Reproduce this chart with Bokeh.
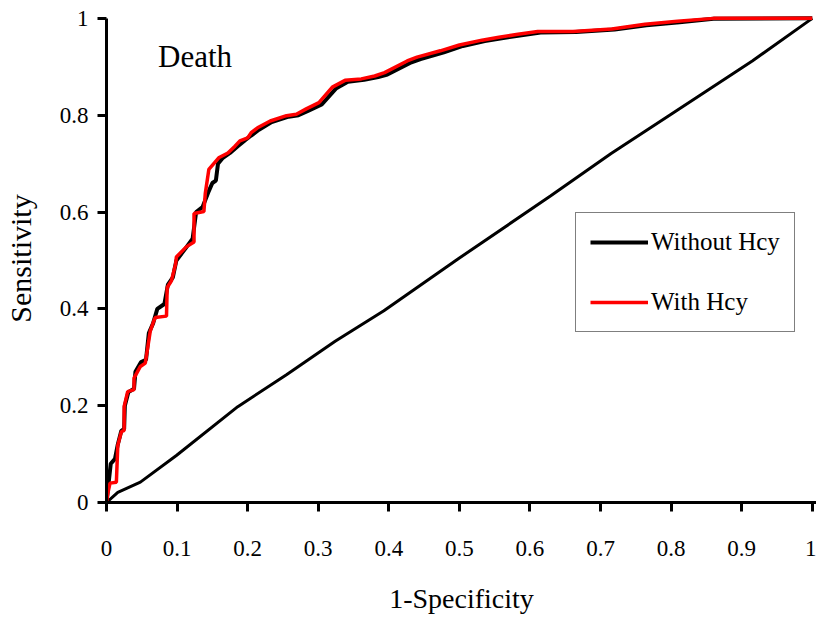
from bokeh.plotting import figure
from bokeh.models import Range1d, FixedTicker, Legend, LegendItem, Label
from bokeh.embed import file_html
from bokeh.resources import INLINE

# ---- data ----
x_ticks = [0, 0.1, 0.2, 0.3, 0.4, 0.5, 0.6, 0.7, 0.8, 0.9, 1]
x_tick_labels = ["0", "0.1", "0.2", "0.3", "0.4", "0.5", "0.6", "0.7", "0.8", "0.9", "1"]
y_ticks = [0, 0.2, 0.4, 0.6, 0.8, 1]
y_tick_labels = ["0", "0.2", "0.4", "0.6", "0.8", "1"]

without_fpr = [0, 0.003, 0.006, 0.012, 0.016, 0.021, 0.025, 0.026, 0.031, 0.039, 0.041, 0.049,
               0.056, 0.060, 0.066, 0.072, 0.082, 0.087, 0.094, 0.099, 0.112, 0.122, 0.127,
               0.136, 0.144, 0.150, 0.155, 0.158, 0.165, 0.175, 0.186, 0.196, 0.205, 0.216,
               0.234, 0.258, 0.272, 0.287, 0.305, 0.325, 0.342, 0.365, 0.385, 0.398, 0.430,
               0.445, 0.478, 0.505, 0.536, 0.560, 0.588, 0.615, 0.665, 0.720, 0.765, 0.812,
               0.860, 1.000]
without_tpr = [0, 0.040, 0.080, 0.090, 0.120, 0.148, 0.152, 0.200, 0.228, 0.235, 0.270, 0.290,
               0.295, 0.350, 0.370, 0.400, 0.410, 0.450, 0.465, 0.500, 0.525, 0.545, 0.600,
               0.610, 0.640, 0.660, 0.665, 0.700, 0.712, 0.722, 0.736, 0.748, 0.758, 0.770,
               0.786, 0.797, 0.800, 0.810, 0.822, 0.855, 0.869, 0.873, 0.879, 0.884, 0.908,
               0.916, 0.930, 0.943, 0.953, 0.959, 0.965, 0.971, 0.972, 0.977, 0.986, 0.992,
               0.999, 1.000]

with_fpr = [0, 0.002, 0.005, 0.014, 0.016, 0.021, 0.025, 0.025, 0.030, 0.039, 0.039, 0.048,
            0.055, 0.062, 0.067, 0.069, 0.085, 0.086, 0.092, 0.098, 0.099, 0.113, 0.124,
            0.124, 0.138, 0.140, 0.145, 0.159, 0.172, 0.182, 0.189, 0.200, 0.205, 0.214,
            0.232, 0.255, 0.269, 0.283, 0.301, 0.320, 0.338, 0.361, 0.380, 0.394, 0.426,
            0.440, 0.473, 0.500, 0.532, 0.556, 0.583, 0.611, 0.661, 0.716, 0.763, 0.809,
            0.860, 1.000]
with_tpr = [0, 0.020, 0.040, 0.042, 0.118, 0.146, 0.149, 0.198, 0.229, 0.233, 0.257, 0.281,
            0.288, 0.354, 0.375, 0.382, 0.385, 0.444, 0.458, 0.493, 0.507, 0.528, 0.538,
            0.597, 0.601, 0.639, 0.688, 0.712, 0.722, 0.736, 0.747, 0.753, 0.764, 0.774,
            0.788, 0.799, 0.802, 0.813, 0.826, 0.858, 0.872, 0.875, 0.881, 0.888, 0.912,
            0.920, 0.933, 0.945, 0.955, 0.961, 0.967, 0.973, 0.973, 0.978, 0.988, 0.994,
            1.000, 1.000]

ref_x = [0, 0.016, 0.048, 0.099, 0.186, 0.255, 0.324, 0.393, 0.500, 0.629, 0.715, 0.800, 0.915, 1.0]
ref_y = [0, 0.021, 0.042, 0.097, 0.198, 0.264, 0.333, 0.396, 0.505, 0.633, 0.721, 0.802, 0.912, 1.0]

series_names = ["Without Hcy", "With Hcy"]
panel_title = "Death"

FONT = "Liberation Serif"

p = figure(width=816, height=616, output_backend="svg", toolbar_location=None,
           x_range=Range1d(0, 1.006), y_range=Range1d(0, 1.008),
           min_border_left=105, min_border_right=0, min_border_top=14, min_border_bottom=114)
p.outline_line_color = None
p.xgrid.visible = False
p.ygrid.visible = False
p.background_fill_color = "white"
p.border_fill_color = "white"

for ax in (p.xaxis[0], p.yaxis[0]):
    ax.axis_line_width = 3
    ax.axis_line_color = "black"
    ax.major_tick_line_width = 3
    ax.major_tick_line_color = "black"
    ax.major_tick_in = 0
    ax.major_tick_out = 9
    ax.minor_tick_line_color = None
    ax.major_label_text_font = FONT
    ax.major_label_text_font_size = "23px"
    ax.major_label_text_color = "black"
    ax.axis_label_text_font = FONT
    ax.axis_label_text_font_style = "normal"
    ax.axis_label_text_color = "black"

p.xaxis[0].ticker = FixedTicker(ticks=x_ticks)
p.xaxis[0].major_label_overrides = dict(zip(x_ticks, x_tick_labels))
p.xaxis[0].major_label_standoff = 29
p.xaxis[0].axis_label = "1-Specificity"
p.xaxis[0].axis_label_text_font_size = "28px"
p.xaxis[0].axis_label_standoff = 24

p.yaxis[0].ticker = FixedTicker(ticks=y_ticks)
p.yaxis[0].major_label_overrides = dict(zip(y_ticks, y_tick_labels))
p.yaxis[0].major_label_standoff = 9
p.yaxis[0].bounds = (0, 1)
p.yaxis[0].axis_label = "Sensitivity"
p.yaxis[0].axis_label_text_font_size = "30px"
p.yaxis[0].axis_label_standoff = 20

p.line(ref_x, ref_y, line_color="black", line_width=3)
r_without = p.line(without_fpr, without_tpr, line_color="black", line_width=4)
r_with = p.line(with_fpr, with_tpr, line_color="#ff0000", line_width=3.5)

p.add_layout(Label(x=0.073, y=0.922, text=panel_title, text_font=FONT,
                   text_font_size="31px", text_color="black", text_baseline="alphabetic"))

legend = Legend(items=[LegendItem(label=series_names[0], renderers=[r_without]),
                       LegendItem(label=series_names[1], renderers=[r_with])],
                location=(469, 170), orientation="vertical",
                label_text_font=FONT, label_text_font_size="25px", label_text_color="black",
                glyph_width=58, glyph_height=30, label_height=30, label_standoff=3,
                spacing=30, padding=14, margin=0,
                border_line_color="black", border_line_width=1,
                background_fill_color="white", background_fill_alpha=1)
p.add_layout(legend)

open("out.html", "w").write(file_html(p, INLINE))
